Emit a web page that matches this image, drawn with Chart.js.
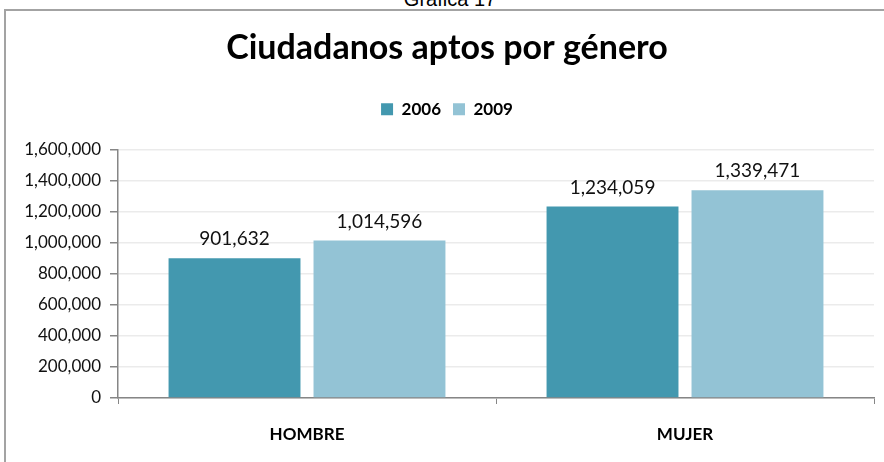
<!DOCTYPE html>
<html>
<head>
<meta charset="utf-8">
<script src="https://cdn.jsdelivr.net/npm/chart.js@4/dist/chart.umd.min.js"></script>
<style>
  html, body { margin: 0; padding: 0; background: #fff; overflow: hidden; }
  #wrap { position: relative; width: 884px; height: 462px; }
  #frame { position: absolute; left: 4px; top: 9px; width: 900px; height: 470px;
           border-left: 2px solid #a3a3a3; border-top: 2px solid #a3a3a3; }
  #caption { position: absolute; left: 0; width: 900px; top: -12px; text-align: center;
             font: 20px/23px "Liberation Sans", Arial, sans-serif; color: #000; }
  canvas { position: absolute; left: 0; top: 0; }
</style>
</head>
<body>
<div id="wrap">
  <div id="caption">Gráfica 17</div>
  <div id="frame"></div>
  <canvas id="c" width="884" height="462"></canvas>
</div>
<script>
const categories = ["HOMBRE", "MUJER"];
const seriesNames = ["2006", "2009"];
const values2006 = [901632, 1234059];
const values2009 = [1014596, 1339471];
const yTicks = [0, 200000, 400000, 600000, 800000, 1000000, 1200000, 1400000, 1600000];

const fmt = v => v.toLocaleString('en-US');

const labelPlugin = {
  id: 'barLabels',
  afterDatasetsDraw(chart) {
    const ctx = chart.ctx;
    ctx.save();
    ctx.font = '19px Lato, sans-serif';
    ctx.fillStyle = '#111';
    ctx.textAlign = 'center';
    ctx.textBaseline = 'alphabetic';
    chart.data.datasets.forEach((ds, i) => {
      chart.getDatasetMeta(i).data.forEach((bar, j) => {
        ctx.fillText(fmt(ds.data[j]), bar.x, bar.y - 13);
      });
    });
    ctx.restore();
  }
};

// empty layout box that adds space between the legend and the plot
const spacerPlugin = {
  id: 'spacer',
  beforeInit(chart) {
    const box = {
      position: 'top', weight: 0, fullSize: true, options: {},
      top: 0, left: 0, right: 0, bottom: 0, width: 0, height: 0,
      isHorizontal() { return true; },
      update(maxWidth) { this.width = maxWidth; this.height = 22; return { width: maxWidth, height: 22 }; },
      getPadding() { return { top: 0, left: 0, right: 0, bottom: 0 }; },
      draw() {}
    };
    Chart.layouts.addBox(chart, box);
  }
};

new Chart(document.getElementById('c'), {
  type: 'bar',
  data: {
    labels: categories,
    datasets: [
      { label: seriesNames[0], data: values2006, backgroundColor: '#4398AF', borderWidth: 0,
        categoryPercentage: 0.767, barPercentage: 0.91 },
      { label: seriesNames[1], data: values2009, backgroundColor: '#93C3D5', borderWidth: 0,
        categoryPercentage: 0.767, barPercentage: 0.91 }
    ]
  },
  options: {
    responsive: false,
    animation: false,
    devicePixelRatio: 1,
    layout: { padding: { left: 20, right: 10, top: 28, bottom: 0 } },
    plugins: {
      title: {
        display: true,
        text: 'Ciudadanos aptos por género',
        color: '#000',
        font: { family: 'Lato', size: 34, weight: 'bold' },
        padding: { top: 0, bottom: 20 }
      },
      legend: {
        display: true,
        labels: {
          color: '#000',
          font: { family: 'Lato', size: 17, weight: 'bold' },
          boxWidth: 12, boxHeight: 12, padding: 12
        }
      },
      tooltip: { enabled: false }
    },
    scales: {
      x: {
        grid: { display: true, drawOnChartArea: false, offset: true, tickColor: '#868686', tickLength: 6 },
        border: { color: '#868686', width: 1.5 },
        ticks: { color: '#000', font: { family: 'Lato', size: 17, weight: 'bold' }, padding: 20 },
        afterFit(scale) { scale.height = 462 - 398; }
      },
      y: {
        min: 0, max: 1600000,
        afterBuildTicks(scale) { scale.ticks = yTicks.map(v => ({ value: v })); },
        grid: { color: '#ebebeb', lineWidth: 1.5, tickColor: '#868686', tickLength: 8 },
        border: { color: '#868686', width: 1.5 },
        ticks: { color: '#111', font: { family: 'Lato', size: 17 }, padding: 9, callback: v => fmt(v) },
        afterFit(scale) { scale.width = 98; }
      }
    }
  },
  plugins: [labelPlugin, spacerPlugin]
});
</script>
</body>
</html>
